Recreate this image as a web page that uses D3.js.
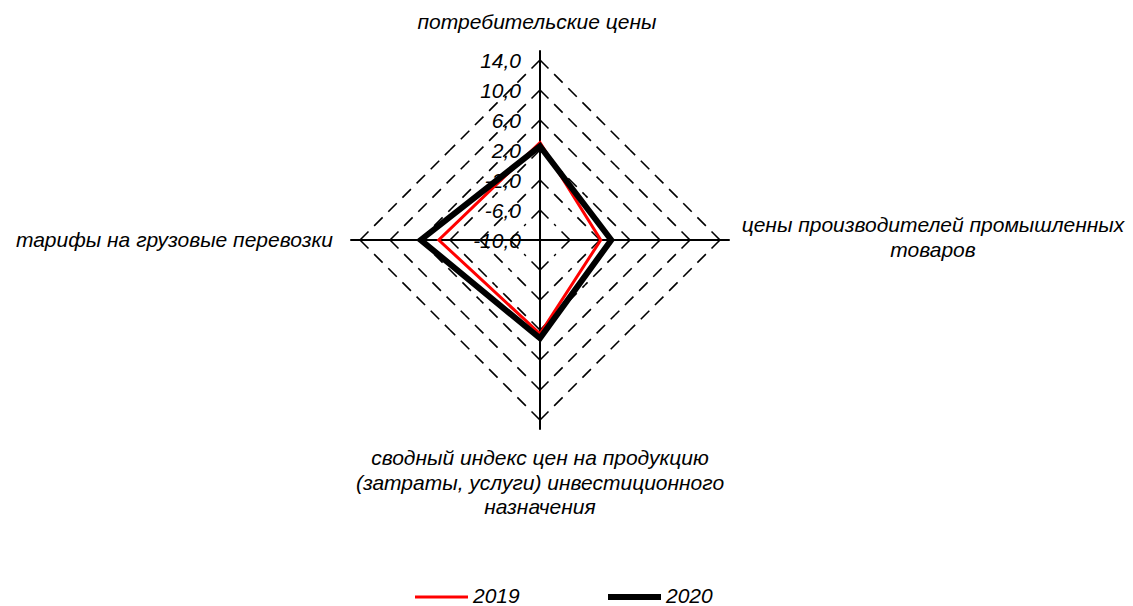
<!DOCTYPE html>
<html><head><meta charset="utf-8">
<script src="https://cdn.jsdelivr.net/npm/d3@7"></script>
<style>body{margin:0;background:#fff}svg text{font-family:"Liberation Sans",Arial,sans-serif;font-style:italic;fill:#000}</style>
</head><body><svg id="c" width="1133" height="606"></svg>
<script>
const categories = [
  ["потребительские цены"],
  ["цены производителей промышленных", "товаров"],
  ["сводный индекс цен на продукцию", "(затраты, услуги) инвестиционного", "назначения"],
  ["тарифы на грузовые перевозки"]
];
const series2019 = [3.0, -1.9, 2.5, 3.5];
const series2020 = [2.5, -0.5, 3.1, 5.9];
const tickValues = [14, 10, 6, 2, -2, -6, -10];
const seriesNames = ["2019", "2020"];

const svg = d3.select("#c");
const cx = 540, cy = 240;
const r = d3.scaleLinear().domain([-10, 14]).range([0, 180]);
const angles = categories.map((d, i) => i * Math.PI / 2);
const pt = (a, rad) => [cx + rad * Math.sin(a), cy - rad * Math.cos(a)];
const fmt = v => d3.format(".1f")(v).replace(".", ",").replace("−", "-");

const g = svg.append("g");
// dashed grid diamonds
tickValues.filter(v => v > -10).forEach(v => {
  const rad = r(v);
  angles.forEach((a, i) => {
    const a2 = angles[(i + 1) % 4];
    const p1 = pt(a, rad), p2 = pt(a2, rad);
    const m = [(p1[0] + p2[0]) / 2, (p1[1] + p2[1]) / 2];
    [[p1, m], [p2, m]].forEach(([s, e]) => {
      g.append("line").attr("x1", s[0]).attr("y1", s[1]).attr("x2", e[0]).attr("y2", e[1])
        .attr("stroke", "#000").attr("stroke-width", 1.6).attr("stroke-dasharray", "12,8");
    });
  });
});
// axes
angles.forEach(a => {
  const p = pt(a, r(15.3));
  g.append("line").attr("x1", cx).attr("y1", cy).attr("x2", p[0]).attr("y2", p[1])
    .attr("stroke", "#000").attr("stroke-width", 2);
});
// tick labels
tickValues.forEach(v => {
  g.append("text").attr("x", cx - 19).attr("y", cy - r(v) + 8)
    .attr("text-anchor", "end").attr("font-size", 21).text(fmt(v));
});
// series
const line = d3.lineRadial().angle((d, i) => angles[i]).radius(d => r(d)).curve(d3.curveLinearClosed);
const sg = svg.append("g").attr("transform", `translate(${cx},${cy})`);
sg.append("path").attr("d", line(series2019)).attr("fill", "none").attr("stroke", "#ff0000")
  .attr("stroke-width", 3).attr("stroke-linejoin", "miter");
sg.append("path").attr("d", line(series2020)).attr("fill", "none").attr("stroke", "#000")
  .attr("stroke-width", 6).attr("stroke-linejoin", "miter");

// category labels
const lab = svg.append("g").attr("font-size", 21);
lab.append("text").attr("x", 537).attr("y", 29).attr("text-anchor", "middle").text(categories[0][0]);
categories[1].forEach((t, i) => lab.append("text").attr("x", 933).attr("y", 232 + i * 25)
  .attr("text-anchor", "middle").text(t));
categories[2].forEach((t, i) => lab.append("text").attr("x", 540).attr("y", 465 + i * 24.5)
  .attr("text-anchor", "middle").text(t));
lab.append("text").attr("x", 333).attr("y", 247).attr("text-anchor", "end").text(categories[3][0]);

// legend
const leg = svg.append("g").attr("font-size", 21);
[[415, "#ff0000", 3], [608, "#000", 6]].forEach(([x, c, w], i) => {
  leg.append("line").attr("x1", x).attr("x2", x + 53).attr("y1", 597).attr("y2", 597)
    .attr("stroke", c).attr("stroke-width", w);
  leg.append("text").attr("x", x + 58).attr("y", 603).text(seriesNames[i]);
});
</script></body></html>
